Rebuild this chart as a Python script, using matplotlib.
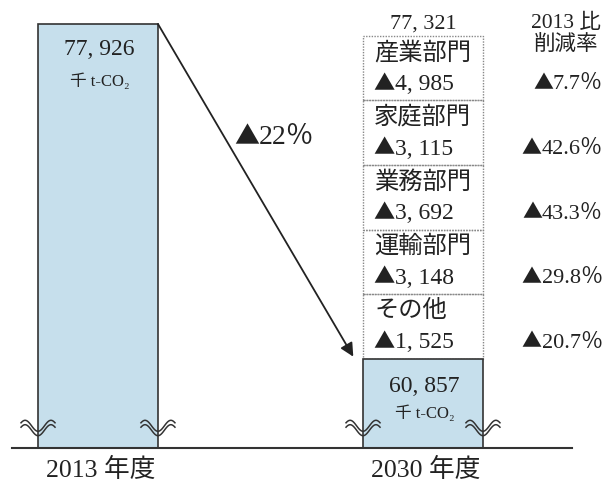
import matplotlib.pyplot as plt
import matplotlib.patches as mpatches
import matplotlib.transforms as mtransforms
from matplotlib.offsetbox import TextArea, HPacker, AnnotationBbox
import numpy as np

plt.rcParams['font.family'] = ['Liberation Serif', 'Noto Sans CJK JP', 'DejaVu Sans']

# データ
years = ['2013 年度', '2030 年度']
totals = [77926, 60857]          # 千 t-CO2
target_total = 77321             # 2030 年度 削減前の積み上げ
sectors = ['産業部門', '家庭部門', '業務部門', '運輸部門', 'その他']
reductions = [4985, 3115, 3692, 3148, 1525]
rates = [7.7, 42.6, 43.3, 29.8, 20.7]   # 2013 比削減率 (%)
total_rate = 22
unit = '千 t-CO₂'

# 軸の省略 (波線) の位置と縦軸スケール
AXIS_BREAK = 56300
S = 51.0          # 1 ピクセルあたりの値
BAR_W = 0.369
TXT = '#222222'


def fmt(v):
    return f'{v:,}'.replace(',', ', ')


fig = plt.figure(figsize=(6.14, 4.81), dpi=100)
ax = fig.add_axes([0, 0, 1, 1])
ax.set_xlim(-0.3015, 1.5877)
ax.set_ylim(AXIS_BREAK - 32 * S, AXIS_BREAK + 449 * S)
ax.axis('off')


# ▲ は CJK フォントで大きく、数字は明朝風 (serif)
def tri_label(xy, text, size, align, coords='data'):
    tri = TextArea('▲', textprops=dict(fontsize=size * 0.9, color=TXT,
                                        family=['Noto Sans CJK JP']))
    num = TextArea(text, textprops=dict(fontsize=size, color=TXT))
    pack = HPacker(children=[tri, num], pad=0, sep=0, align='baseline')
    ab = AnnotationBbox(pack, xy, xycoords=coords, box_alignment=(align, 0.5),
                        frameon=False, pad=0)
    ax.add_artist(ab)


# 棒グラフ
x = np.arange(len(years))
ax.bar(x, [t - AXIS_BREAK for t in totals], bottom=AXIS_BREAK, width=BAR_W,
       color='#c6dfec', edgecolor='#333333', linewidth=1.2, zorder=2)
ax.axhline(AXIS_BREAK, xmin=12 / 614, xmax=572 / 614, color='#333333', lw=1.5, zorder=3)

for xi, t, lab, d1, d2 in zip(x, totals, years, (-18, -19), (-41, -39)):
    ax.annotate(fmt(t), (xi, t), xytext=(1, d1), textcoords='offset points',
                ha='center', va='center', fontsize=17, color=TXT)
    ax.annotate(unit, (xi, t), xytext=(1, d2), textcoords='offset points',
                ha='center', va='center', fontsize=12, color=TXT)
    ax.text(xi + 0.008, 0.022, lab, transform=ax.get_xaxis_transform(),
            ha='center', va='center', fontsize=18.5, color=TXT)

# 部門別削減量 (点線の箱)
box_h = (target_total - totals[1]) / len(sectors)
left = x[1] - BAR_W / 2
for i, (name, red, rate) in enumerate(zip(sectors[::-1], reductions[::-1], rates[::-1])):
    b = totals[1] + i * box_h
    ax.add_patch(mpatches.Rectangle((left, b), BAR_W, box_h, fill=False,
                                    edgecolor='#888888', linestyle=(0, (1, 1)),
                                    linewidth=1, zorder=1))
    ax.text(left + 0.034, b + 0.75 * box_h, name, ha='left', va='center',
            fontsize=17.5, color=TXT)
    tri_label((left + 0.032, b + 0.27 * box_h), fmt(red), 17, 0)
    tri_label((x[1] + 0.554, b + 0.27 * box_h), f'{rate}％', 16, 1)

ax.annotate(fmt(target_total), (x[1], target_total), xytext=(0, 9),
            textcoords='offset points', ha='center', va='center',
            fontsize=16, color=TXT)
ax.text(566 / 614, 1 - 23 / 481, '2013 比', transform=ax.transAxes,
        ha='center', va='center', fontsize=15.5, color=TXT)
ax.text(566 / 614, 1 - 46 / 481, '削減率', transform=ax.transAxes,
        ha='center', va='center', fontsize=15.5, color=TXT)

# 矢印
ax.annotate('', xy=(left - 0.03, totals[1] + 2 * S), xytext=(x[0] + BAR_W / 2, totals[0]),
            arrowprops=dict(arrowstyle='-|>', color='#222222', lw=1.3,
                            mutation_scale=20, shrinkA=0, shrinkB=0), zorder=4)
tri_label((234 / 614, 1 - 137 / 481), f'{total_rate}％', 20, 0, coords='axes fraction')

# 波線 (省略記号)
t = np.linspace(0, 1, 60)
wx = -17 + 34 * t
wy = -5.5 * np.cos(2 * np.pi * (t - 0.5) / 0.76)
for xi in x:
    for ex in (xi - BAR_W / 2, xi + BAR_W / 2):
        tr = mtransforms.Affine2D().scale(fig.dpi / 100) + \
            mtransforms.ScaledTranslation(ex, AXIS_BREAK + 20 * S, ax.transData)
        for dy in (2.2, -2.2):
            ax.plot(wx, wy + dy, color='#333333', lw=1.1, transform=tr,
                    clip_on=False, zorder=5)

fig.savefig('out.png', dpi=100)
